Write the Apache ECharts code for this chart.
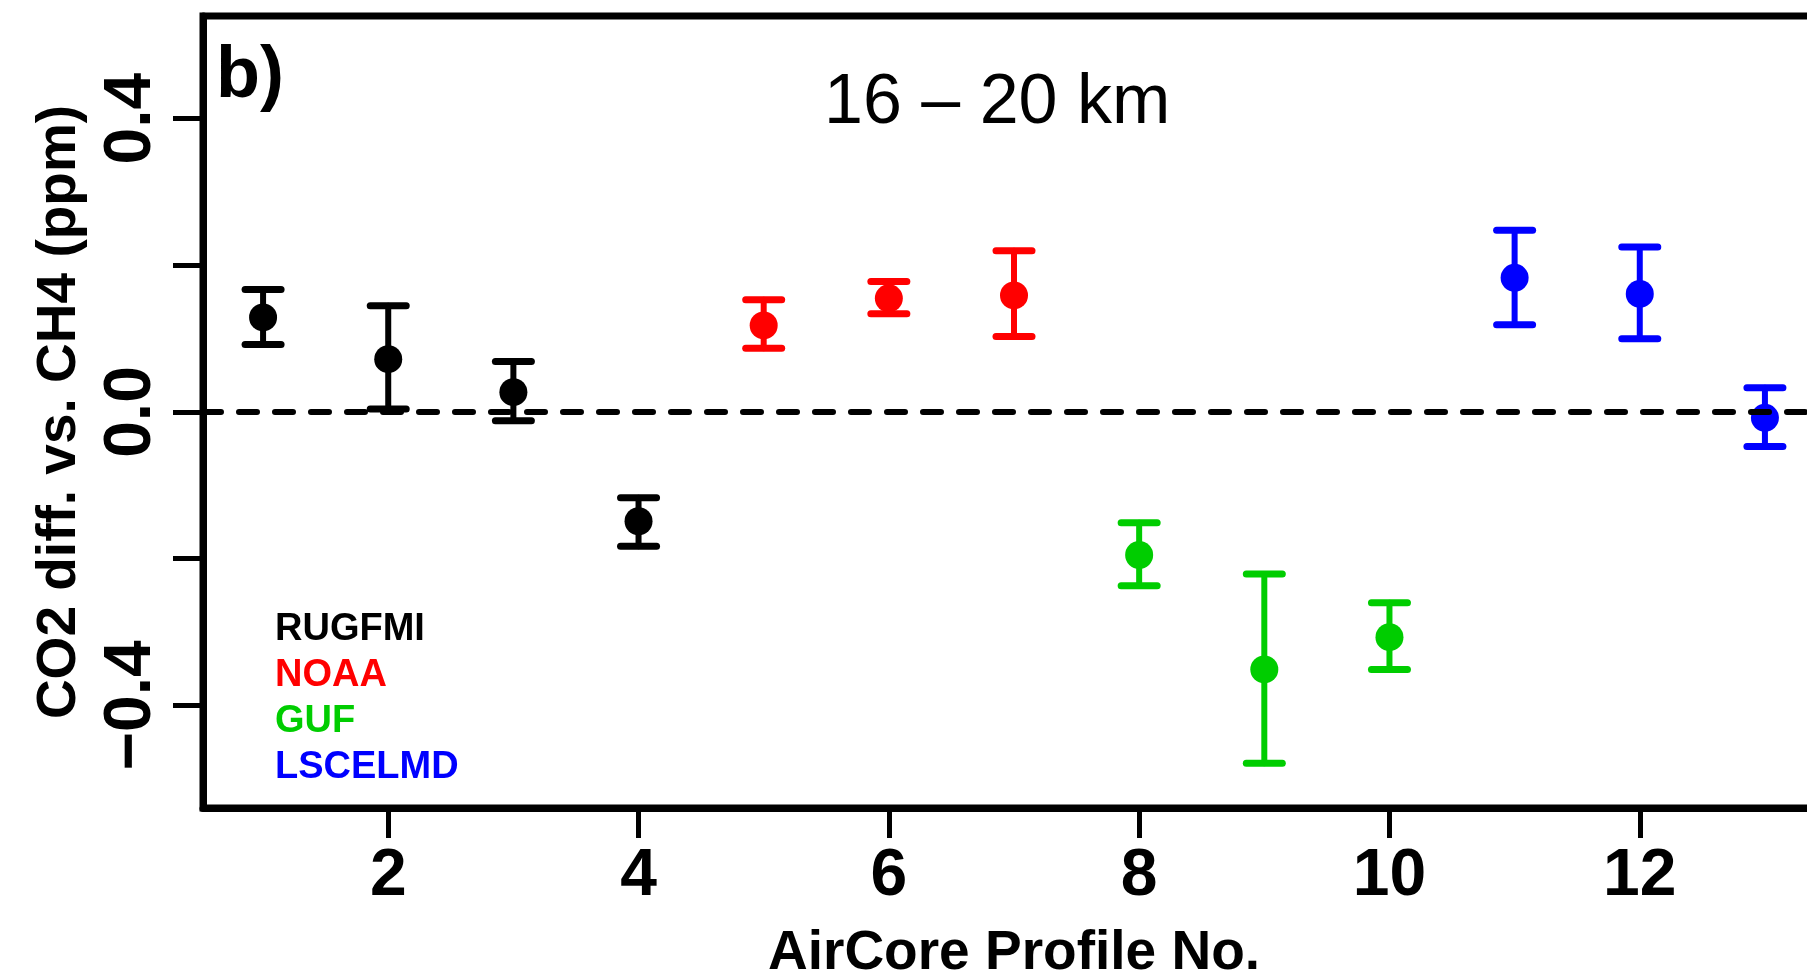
<!DOCTYPE html>
<html><head><meta charset="utf-8">
<script src="https://cdn.jsdelivr.net/npm/echarts@6/dist/echarts.min.js"></script>
<style>html,body{margin:0;padding:0;background:#fff}#c{width:1807px;height:975px}</style>
</head><body><div id="c"></div>
<script>
// ---- data ----
const groupNames = ['RUGFMI', 'NOAA', 'GUF', 'LSCELMD'];
const groupColors = ['#000000', '#FF0000', '#00CD00', '#0000FF'];
const profileNo = [1, 2, 3, 4, 5, 6, 7, 8, 9, 10, 11, 12, 13];
const profileGroup = [0, 0, 0, 0, 1, 1, 1, 2, 2, 2, 3, 3, 3];
const meanDiff = [0.129, 0.072, 0.027, -0.149, 0.118, 0.155, 0.159, -0.195, -0.351, -0.307, 0.183, 0.161, -0.008];
const errHigh  = [0.167, 0.145, 0.069, -0.117, 0.153, 0.178, 0.220, -0.151, -0.221, -0.260, 0.248, 0.225, 0.033];
const errLow   = [0.092, 0.004, -0.012, -0.183, 0.087, 0.134, 0.103, -0.237, -0.479, -0.351, 0.119, 0.100, -0.047];
const xTickValues = [2, 4, 6, 8, 10, 12];
const yTickValues = [-0.4, -0.2, 0, 0.2, 0.4];
const yLabelValues = [-0.4, 0, 0.4];
const panelLabel = 'b)';
const altitudeTitle = '16 \u2013 20 km';

// ---- chart ----
const FONT = '"Liberation Sans", Arial, Helvetica, sans-serif';
const chart = echarts.init(document.getElementById('c'), null, {renderer: 'canvas'});

const series = [];
groupNames.forEach((name, g) => {
  const idx = profileNo.map((p, i) => i).filter(i => profileGroup[i] === g);
  const color = groupColors[g];
  series.push({
    name: name,
    type: 'custom',
    silent: true,
    z: 3,
    data: idx.map(i => [profileNo[i], errLow[i], errHigh[i]]),
    encode: {x: 0, y: [1, 2]},
    renderItem: (params, api) => {
      const x = api.value(0);
      const pLo = api.coord([x, api.value(1)]);
      const pHi = api.coord([x, api.value(2)]);
      const hw = 18;
      const st = {stroke: color, lineWidth: 6, lineCap: 'round'};
      const cst = {stroke: color, lineWidth: 7, lineCap: 'round'};
      return {
        type: 'group',
        children: [
          {type: 'line', shape: {x1: pHi[0], y1: pHi[1], x2: pLo[0], y2: pLo[1]}, style: st},
          {type: 'line', shape: {x1: pHi[0] - hw, y1: pHi[1], x2: pHi[0] + hw, y2: pHi[1]}, style: cst},
          {type: 'line', shape: {x1: pLo[0] - hw, y1: pLo[1], x2: pLo[0] + hw, y2: pLo[1]}, style: cst}
        ]
      };
    }
  });
  const sc = {
    name: name,
    type: 'scatter',
    z: 4,
    symbol: 'circle',
    symbolSize: 28,
    itemStyle: {color: color, opacity: 1},
    data: idx.map(i => [profileNo[i], meanDiff[i]])
  };
  if (g === 3) {
    sc.markLine = {
      silent: true,
      z: 5,
      symbol: ['none', 'none'],
      label: {show: false},
      lineStyle: {color: '#000', width: 6, type: [18, 18], cap: 'round', opacity: 1},
      data: [{yAxis: 0}]
    };
  }
  series.push(sc);
});

const fmtY = v => {
  const s = Math.abs(v).toFixed(1);
  return v < -1e-9 ? '\u2212' + s : s;
};

chart.setOption({
  animation: false,
  backgroundColor: '#fff',
  title: [
    {text: altitudeTitle, left: 819, top: 64,
     textStyle: {fontFamily: FONT, fontSize: 70, fontWeight: 'normal', color: '#000'}},
    {text: panelLabel, left: 211, top: 36,
     textStyle: {fontFamily: FONT, fontSize: 72, fontWeight: 'bold', color: '#000'}}
  ],
  legend: {
    orient: 'vertical', left: 265, top: 606,
    itemWidth: 0, itemHeight: 0, itemGap: 8,
    selectedMode: false,
    textStyle: {fontFamily: FONT, fontSize: 38, fontWeight: 'bold'},
    data: groupNames.map((n, i) => ({name: n, textStyle: {color: groupColors[i]}}))
  },
  grid: {
    left: 203, right: -18, top: 16, bottom: 167,
    outerBoundsMode: 'none', containLabel: false,
    show: true, borderColor: '#000', borderWidth: 7, backgroundColor: 'transparent'
  },
  xAxis: {
    type: 'value', min: 0.52, max: 13.48,
    name: 'AirCore Profile No.', nameLocation: 'middle', nameGap: 118,
    nameTextStyle: {fontFamily: FONT, fontSize: 55, fontWeight: 'bold', color: '#000'},
    axisLine: {show: true, onZero: false, lineStyle: {color: '#000', width: 7}},
    axisTick: {show: true, length: 30, lineStyle: {color: '#000', width: 5}, customValues: xTickValues},
    axisLabel: {show: true, margin: 36, fontFamily: FONT, fontSize: 66, fontWeight: 'bold', color: '#000',
                customValues: xTickValues},
    splitLine: {show: false}
  },
  yAxis: {
    type: 'value', min: -0.54, max: 0.54,
    name: 'CO2 diff. vs. CH4 (ppm)', nameLocation: 'middle', nameGap: 116,
    nameTextStyle: {fontFamily: FONT, fontSize: 55, fontWeight: 'bold', color: '#000'},
    axisLine: {show: true, onZero: false, lineStyle: {color: '#000', width: 7}},
    axisTick: {show: true, length: 30, lineStyle: {color: '#000', width: 5}, customValues: yTickValues},
    axisLabel: {show: true, rotate: 90, margin: 38, fontFamily: FONT, fontSize: 66, fontWeight: 'bold', color: '#000',
                customValues: yLabelValues, formatter: fmtY},
    splitLine: {show: false}
  },
  series: series
});
</script></body></html>
